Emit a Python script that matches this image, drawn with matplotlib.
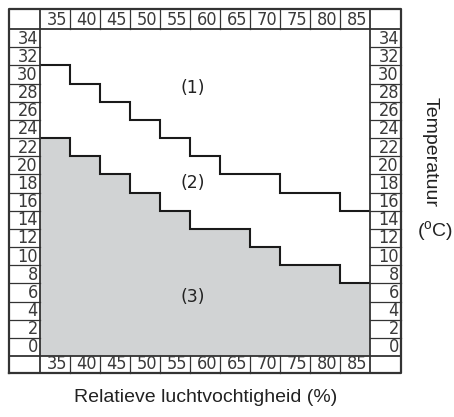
import numpy as np
import matplotlib
matplotlib.use('Agg')
import matplotlib.pyplot as plt
from matplotlib import font_manager

# data
humidity = [35, 40, 45, 50, 55, 60, 65, 70, 75, 80, 85]
temps = [34, 32, 30, 28, 26, 24, 22, 20, 18, 16, 14, 12, 10, 8, 6, 4, 2, 0]
line1 = [31, 29, 27, 25, 23, 21, 19, 19, 17, 17, 15]   # boundary (1)/(2)
line2 = [23, 21, 19, 17, 15, 13, 13, 11, 9, 9, 7]      # boundary (2)/(3)
zones = ['(1)', '(2)', '(3)']
zone_pos = [(58, 28.5), (58, 18.0), (58, 5.5)]

plt.rcParams['mathtext.fontset'] = 'custom'
plt.rcParams['mathtext.rm'] = 'Liberation Sans'

# narrow font for the cell numbers, if one is installed
names = set(f.name for f in font_manager.fontManager.ttflist)
cond = [f for f in font_manager.fontManager.ttflist
        if 'Condensed' in f.fname or 'Narrow' in f.fname]
print(sorted(names))
print([c.fname for c in cond])
numfont = None
for f in cond:
    if 'DejaVuSansCondensed.ttf' in f.fname or 'LiberationSansNarrow-Regular' in f.fname:
        numfont = font_manager.FontProperties(fname=f.fname, size=13)
        break
if numfont is None:
    numfont = font_manager.FontProperties(family='Liberation Sans', size=12)

W, H = 454, 417
fig = plt.figure(figsize=(W/100, H/100), dpi=100)
ax = fig.add_axes([40/W, (H-356)/H, 330/W, 327/H])

cw = 5.0
x0, x1 = humidity[0]-cw/2, humidity[-1]+cw/2
y0, y1 = -1, 35
ax.set_xlim(x0, x1)
ax.set_ylim(y0, y1)
ax.axis('off')

edges = np.append(np.array(humidity)-cw/2, humidity[-1]+cw/2)
ax.stairs(line2, edges, baseline=y0, fill=True, color='#d1d3d4', lw=0)
ax.stairs(line2, edges, baseline=None, color='#1a1a1a', lw=1.5)
ax.stairs(line1, edges, baseline=None, color='#1a1a1a', lw=1.5)

for z, (zx, zy) in zip(zones, zone_pos):
    ax.text(zx, zy, z, fontsize=12.5, ha='center', va='center', color='#222222')

# label cells around the plot
side = 31/6.0
top_h = 20/9.08
bot_h = 17/9.08
X0, X1 = x0-side, x1+side
Y0, Y1 = y0-bot_h, y1+top_h
lc = '#333333'
kw = dict(clip_on=False, color=lc)
# outer frame
ax.plot([X0, X1, X1, X0, X0], [Y0, Y0, Y1, Y1, Y0], lw=1.6, **kw)
# inner frame
ax.plot([x0, x1, x1, x0, x0], [y0, y0, y1, y1, y0], lw=1.3, **kw)
ax.plot([X0, x0], [y1, y1], lw=1.3, **kw)
ax.plot([X0, x0], [y0, y0], lw=1.3, **kw)
ax.plot([x1, X1], [y1, y1], lw=1.3, **kw)
ax.plot([x1, X1], [y0, y0], lw=1.3, **kw)
ax.plot([x0, x0], [y1, Y1], lw=1.3, **kw)
ax.plot([x0, x0], [Y0, y0], lw=1.3, **kw)
ax.plot([x1, x1], [y1, Y1], lw=1.3, **kw)
ax.plot([x1, x1], [Y0, y0], lw=1.3, **kw)

for e in edges[1:-1]:
    ax.plot([e, e], [y1, Y1], lw=0.9, **kw)
    ax.plot([e, e], [Y0, y0], lw=0.9, **kw)
for t in temps[:-1]:
    ax.plot([X0, x0], [t-1, t-1], lw=0.9, **kw)
    ax.plot([x1, X1], [t-1, t-1], lw=0.9, **kw)

tc = '#3a3a3a'
for h in humidity:
    ax.text(h+cw/2-0.5, y1+0.05, str(h), ha='right', va='bottom',
            fontproperties=numfont, color=tc, clip_on=False)
    ax.text(h+cw/2-0.5, y0-bot_h-0.05, str(h), ha='right', va='bottom',
            fontproperties=numfont, color=tc, clip_on=False)
for t in temps:
    ax.text(x0-0.35, t-1.05, str(t), ha='right', va='bottom',
            fontproperties=numfont, color=tc, clip_on=False)
    ax.text(X1-0.35, t-1.05, str(t), ha='right', va='bottom',
            fontproperties=numfont, color=tc, clip_on=False)

fig.text(206/W, 1-398/H, 'Relatieve luchtvochtigheid (%)', ha='center', va='center',
         fontsize=14, family='Liberation Sans', color='#222222')
fig.text(430/W, 1-152/H, 'Temperatuur', ha='center', va='center', rotation=270,
         fontsize=14, family='Liberation Sans', color='#222222')
fig.text(435/W, 1-232/H, r'($^{\rm o}$C)', ha='center', va='center',
         fontsize=14, family='Liberation Sans', color='#222222')

fig.savefig('out.png', dpi=100)
